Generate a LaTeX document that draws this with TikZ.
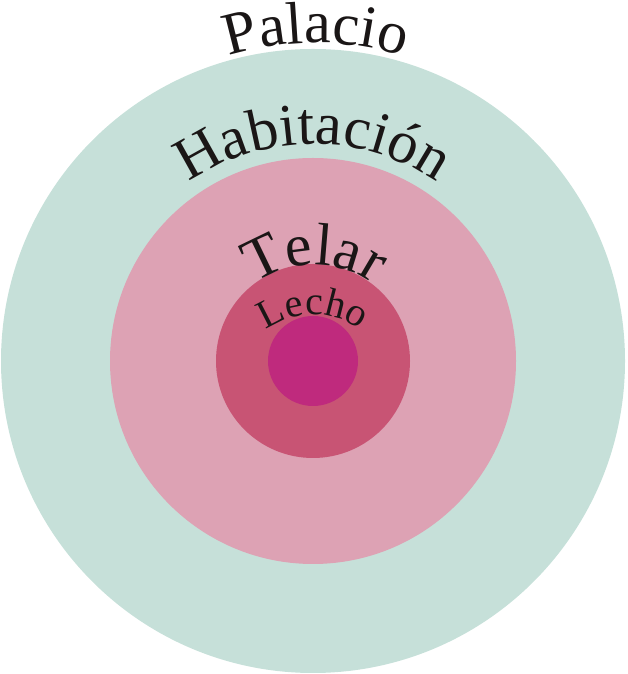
\documentclass[tikz,border=0pt]{standalone}
\usepackage{fontspec}
\setmainfont{Liberation Serif}
\newfontfamily\ringfamily{Liberation Serif}
\usetikzlibrary{decorations.text}
\definecolor{palaciofill}{RGB}{198,224,217}
\definecolor{habfill}{RGB}{221,162,180}
\definecolor{telarfill}{RGB}{200,84,116}
\definecolor{lechofill}{RGB}{191,42,125}
\newcommand{\ringfont}{\ringfamily\fontsize{30}{36}\selectfont\color[RGB]{26,22,22}}
\newcommand{\smallringfont}{\ringfamily\fontsize{20}{24}\selectfont\color[RGB]{26,22,22}}

\begin{document}
\begin{tikzpicture}[x=0.5pt, y=0.5pt,
    ringlabel/.style={decorate, decoration={text along path, text align=center, text={#1}}}]
    \useasboundingbox (0,0) rectangle (627,674);
    \coordinate (mid) at (313,313);
    % Rings
    \fill[palaciofill] (mid) circle[radius=312];
    \fill[habfill] (mid) circle[radius=203];
    \fill[telarfill] (mid) circle[radius=97];
    \fill[lechofill] (mid) circle[radius=45];
    % Label arcs
    \coordinate (palc) at (316,341);
    \coordinate (habc) at (313,313);
    \coordinate (telc) at (314,309);
    \coordinate (lecc) at (313,279);
    \path[ringlabel={|\ringfont|Palacio}] ([shift={(180:290)}]palc) arc[start angle=180, end angle=0, radius=290];
    \path[ringlabel={|\ringfont|Habitación}] ([shift={(180:217)}]habc) arc[start angle=180, end angle=0, radius=217];
    \path[ringlabel={|\ringfont|Telar}] ([shift={(180:100)}]telc) arc[start angle=180, end angle=0, radius=100];
    \path[ringlabel={|\smallringfont|Lecho}] ([shift={(180:80)}]lecc) arc[start angle=180, end angle=0, radius=80];
\end{tikzpicture}
\end{document}
